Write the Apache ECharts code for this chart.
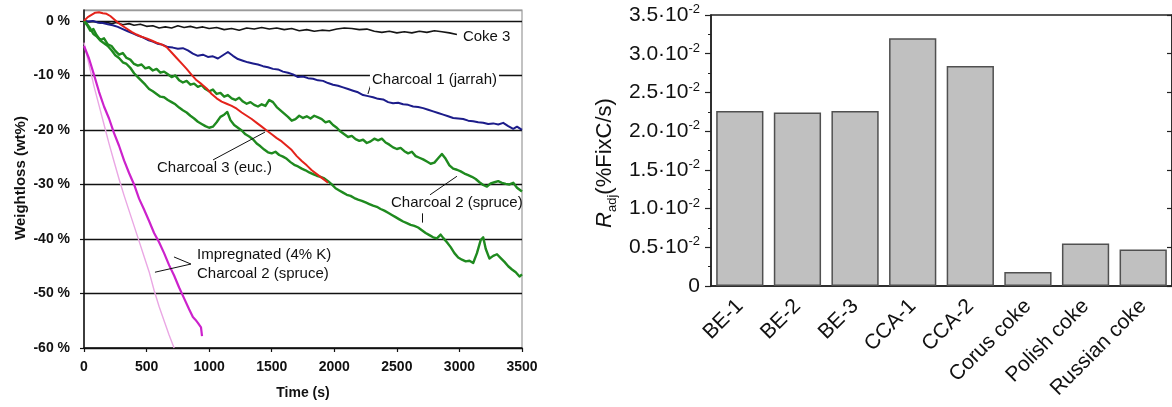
<!DOCTYPE html>
<html>
<head>
<meta charset="utf-8">
<script src="https://cdn.jsdelivr.net/npm/echarts@6/dist/echarts.min.js"></script>
<style>
  html, body { margin: 0; padding: 0; background: #fff; }
  #chart { width: 1172px; height: 407px; }
</style>
</head>
<body>
<div id="chart"></div>
<script>
// ---- Weight loss vs time (left panel): [time s, weight loss %] ----
const coke3 = [[0,0],[40,-0.2],[80,-0.1],[130,-0.4],[170,-0.2],[220,-0.5],[260,-0.3],[310,-0.7],[360,-0.5],[400,-0.8],[450,-0.6],[500,-1.0],[550,-0.9],[600,-1.3],[650,-1.1],[700,-1.3],[750,-0.9],[800,-1.2],[850,-1.0],[900,-1.3],[950,-1.1],[1000,-1.4],[1060,-1.2],[1120,-1.6],[1180,-1.4],[1240,-1.7],[1300,-1.3],[1360,-1.5],[1420,-1.2],[1480,-1.5],[1540,-1.3],[1600,-1.6],[1660,-1.4],[1720,-1.8],[1780,-1.6],[1840,-1.9],[1900,-1.7],[1960,-1.8],[2020,-1.5],[2080,-1.3],[2140,-1.4],[2200,-1.6],[2260,-1.5],[2320,-1.9],[2380,-2.1],[2440,-1.9],[2500,-2.2],[2560,-2.0],[2620,-2.2],[2680,-1.9],[2740,-2.1],[2800,-1.8],[2860,-2.0],[2920,-2.2],[2980,-2.5]];

const charcoal1Jarrah = [[0,0],[30,-0.1],[70,0.0],[110,-0.3],[150,-0.4],[190,-0.6],[230,-0.8],[270,-1.1],[310,-1.5],[350,-1.9],[390,-2.3],[430,-2.7],[470,-3.0],[510,-3.5],[550,-3.8],[590,-4.2],[630,-4.4],[670,-4.8],[710,-4.9],[750,-5.1],[790,-5.0],[830,-5.4],[870,-6.0],[910,-6.4],[950,-6.2],[990,-6.6],[1030,-6.5],[1070,-6.9],[1110,-6.3],[1150,-5.7],[1190,-6.4],[1230,-7.0],[1270,-7.3],[1310,-7.6],[1350,-7.8],[1390,-8.0],[1430,-8.3],[1470,-8.5],[1510,-8.8],[1550,-8.9],[1590,-9.3],[1630,-9.5],[1670,-9.8],[1710,-10.3],[1750,-10.2],[1790,-10.5],[1830,-10.6],[1870,-10.9],[1910,-11.0],[1950,-11.4],[1990,-11.7],[2030,-11.9],[2070,-12.2],[2110,-12.5],[2150,-12.8],[2190,-13.1],[2230,-13.6],[2270,-13.8],[2310,-14.0],[2350,-14.3],[2390,-14.4],[2430,-14.9],[2470,-15.1],[2510,-15.0],[2550,-15.3],[2590,-15.4],[2630,-15.7],[2670,-15.8],[2710,-16.0],[2750,-16.3],[2790,-16.6],[2830,-16.9],[2870,-17.2],[2910,-17.5],[2950,-17.8],[2990,-17.9],[3030,-18.0],[3070,-18.3],[3110,-18.4],[3150,-18.6],[3190,-18.7],[3230,-18.9],[3270,-18.8],[3310,-19.0],[3350,-18.7],[3390,-19.3],[3430,-19.8],[3460,-19.4],[3500,-20.0]];

const charcoal3Euc = [[0,0],[30,0.7],[60,1.1],[90,1.5],[120,1.6],[150,1.4],[180,1.3],[210,0.9],[240,0.3],[270,-0.3],[300,-0.8],[340,-1.4],[380,-2.0],[420,-2.5],[460,-2.9],[500,-3.2],[540,-3.6],[580,-4.0],[620,-4.3],[660,-4.8],[700,-5.8],[740,-6.8],[780,-7.8],[820,-8.8],[860,-9.9],[900,-10.9],[940,-11.6],[980,-12.4],[1020,-13.4],[1060,-14.2],[1100,-14.8],[1140,-15.2],[1180,-15.6],[1220,-16.1],[1260,-16.8],[1300,-17.4],[1340,-18.0],[1380,-18.7],[1420,-19.4],[1460,-20.1],[1500,-20.8],[1540,-21.5],[1580,-22.1],[1620,-22.9],[1660,-23.7],[1700,-24.8],[1740,-25.7],[1780,-26.5],[1820,-27.4],[1860,-28.1],[1900,-28.8],[1950,-29.7]];

const charcoal2SpruceA = [[0,0],[25,-0.8],[50,-1.8],[75,-1.5],[100,-2.6],[130,-3.5],[160,-3.2],[190,-4.3],[220,-4.6],[250,-5.5],[280,-6.2],[310,-5.9],[340,-6.8],[370,-7.1],[400,-7.9],[430,-8.2],[460,-8.0],[490,-8.7],[520,-8.5],[550,-9.1],[580,-8.8],[610,-9.5],[640,-9.3],[670,-9.8],[700,-10.3],[730,-10.0],[760,-10.9],[790,-11.3],[820,-11.0],[850,-11.7],[880,-11.5],[910,-12.1],[940,-11.8],[970,-12.5],[1000,-12.9],[1030,-12.6],[1060,-13.4],[1090,-13.2],[1120,-13.9],[1150,-13.6],[1180,-14.2],[1210,-14.5],[1240,-14.1],[1270,-14.8],[1300,-15.2],[1330,-14.9],[1360,-15.4],[1390,-15.7],[1420,-15.3],[1450,-15.6],[1480,-14.5],[1510,-14.9],[1540,-15.8],[1570,-16.4],[1600,-17.0],[1630,-17.6],[1660,-18.3],[1690,-18.0],[1720,-17.4],[1750,-17.8],[1780,-17.5],[1810,-17.9],[1840,-17.4],[1870,-17.7],[1900,-18.0],[1930,-18.6],[1960,-18.4],[1990,-19.1],[2020,-19.6],[2050,-20.3],[2080,-20.8],[2110,-21.3],[2140,-21.1],[2170,-21.7],[2200,-22.0],[2230,-21.8],[2260,-22.4],[2290,-22.1],[2320,-21.6],[2350,-21.9],[2380,-21.6],[2410,-22.3],[2440,-22.7],[2470,-23.2],[2500,-23.5],[2530,-23.3],[2560,-23.9],[2590,-24.3],[2620,-24.0],[2650,-24.8],[2680,-25.1],[2710,-25.4],[2740,-25.8],[2770,-26.2],[2800,-26.0],[2830,-25.2],[2860,-24.4],[2890,-25.3],[2920,-26.5],[2950,-27.1],[2980,-27.3],[3010,-27.6],[3040,-28.0],[3070,-28.3],[3100,-28.6],[3130,-29.0],[3160,-29.6],[3190,-30.1],[3220,-30.4],[3250,-29.8],[3280,-29.6],[3310,-29.4],[3340,-29.7],[3370,-29.9],[3400,-30.0],[3430,-29.7],[3460,-30.6],[3500,-31.3]];

const charcoal2SpruceB = [[0,0],[25,-0.6],[50,-1.4],[75,-2.4],[100,-2.8],[130,-3.6],[160,-4.1],[190,-4.6],[220,-5.4],[250,-6.3],[280,-6.8],[310,-7.6],[340,-7.9],[370,-8.6],[400,-9.6],[430,-10.3],[460,-11.0],[490,-11.7],[520,-12.5],[550,-12.9],[580,-13.4],[610,-13.9],[640,-14.0],[670,-14.5],[700,-14.9],[730,-15.3],[760,-15.9],[790,-16.4],[820,-16.8],[850,-17.4],[880,-17.9],[910,-18.5],[940,-18.9],[970,-19.3],[1000,-19.6],[1030,-19.4],[1060,-18.6],[1090,-17.6],[1120,-17.2],[1145,-16.7],[1170,-18.2],[1200,-19.1],[1230,-19.6],[1260,-20.1],[1290,-20.8],[1320,-21.2],[1350,-21.7],[1380,-22.5],[1410,-23.0],[1440,-23.6],[1470,-24.1],[1500,-24.3],[1530,-24.0],[1560,-24.6],[1590,-24.9],[1620,-25.3],[1650,-25.9],[1680,-26.4],[1710,-26.7],[1740,-27.1],[1770,-27.4],[1800,-27.8],[1830,-28.1],[1860,-28.4],[1890,-28.6],[1920,-28.9],[1950,-29.4],[1980,-30.0],[2010,-30.7],[2040,-31.1],[2070,-31.5],[2100,-31.9],[2130,-32.1],[2160,-32.5],[2190,-32.8],[2220,-33.0],[2250,-33.3],[2280,-33.6],[2310,-33.9],[2340,-34.1],[2370,-34.5],[2400,-34.8],[2430,-35.2],[2460,-35.6],[2490,-36.0],[2520,-36.4],[2550,-36.8],[2580,-37.1],[2610,-37.4],[2640,-37.6],[2670,-37.9],[2700,-38.4],[2730,-38.9],[2760,-39.3],[2790,-39.7],[2820,-39.9],[2850,-39.2],[2870,-39.8],[2900,-40.6],[2930,-41.5],[2960,-42.6],[2990,-43.4],[3020,-43.8],[3050,-44.1],[3080,-44.0],[3110,-44.4],[3140,-42.6],[3170,-40.2],[3190,-39.7],[3210,-41.8],[3240,-43.6],[3270,-43.1],[3300,-42.8],[3330,-43.5],[3360,-44.2],[3390,-45.0],[3420,-45.6],[3450,-46.1],[3480,-46.9],[3500,-46.5]];

const impregnated4K = [[0,-4.6],[40,-6.9],[80,-9.9],[120,-13.0],[160,-15.7],[200,-17.9],[240,-20.6],[280,-22.9],[320,-25.6],[360,-27.9],[400,-30.0],[440,-32.6],[480,-34.6],[520,-36.7],[560,-38.9],[600,-40.6],[640,-42.6],[680,-44.8],[720,-46.7],[760,-48.9],[800,-50.9],[840,-52.9],[870,-54.3],[890,-54.8],[910,-55.4],[925,-55.1],[935,-56.2],[943,-57.8]];

const charcoal2SpruceImp = [[0,-4.0],[40,-8.0],[80,-12.0],[120,-15.5],[160,-19.0],[200,-22.5],[240,-25.8],[280,-29.0],[320,-32.0],[360,-34.8],[400,-37.6],[440,-40.4],[480,-43.2],[520,-46.0],[560,-49.4],[600,-52.4],[640,-55.0],[680,-57.6],[720,-60.0]];

// ---- Adjusted reactivity (right panel) ----
const samples = ['BE-1', 'BE-2', 'BE-3', 'CCA-1', 'CCA-2', 'Corus coke', 'Polish coke', 'Russian coke'];
const rAdj = [0.0226, 0.0224, 0.0226, 0.0320, 0.0284, 0.0018, 0.0055, 0.0047];

const FONT = "'Liberation Sans', Arial, sans-serif";
const chart = echarts.init(document.getElementById('chart'), null, { renderer: 'canvas' });

const noteStyle = { fontFamily: FONT, fontSize: 15, color: '#111' };
function note(coord, text, extra) {
  return {
    coord: coord, symbol: 'rect', symbolSize: 0,
    label: Object.assign({ show: true, position: 'right', distance: 0, formatter: text }, noteStyle, extra || {})
  };
}
function leader(a, b) { return [{ coord: a }, { coord: b }]; }

function line(name, data, color, width, extra) {
  return Object.assign({
    name: name, type: 'line', xAxisIndex: 0, yAxisIndex: 0, data: data,
    showSymbol: false, symbol: 'none', animation: false, silent: true,
    lineStyle: { color: color, width: width, join: 'round' }
  }, extra || {});
}

const option = {
  animation: false,
  textStyle: { fontFamily: FONT },
  grid: [
    { left: 84, right: 650, top: 10, bottom: 59, show: true, borderColor: '#9a9a9a', borderWidth: 1.2, backgroundColor: '#fff' },
    { left: 711, right: -3, top: 15, bottom: 121, show: true, borderColor: '#222', borderWidth: 1.5, backgroundColor: '#fff' }
  ],
  xAxis: [
    {
      gridIndex: 0, type: 'value', min: 0, max: 3500, interval: 500,
      name: 'Time (s)', nameLocation: 'middle', nameGap: 38,
      nameTextStyle: { fontFamily: FONT, fontSize: 14, fontWeight: 'bold', color: '#111' },
      axisLine: { show: true, onZero: false, lineStyle: { color: '#111', width: 1.5 } },
      axisTick: { show: true, length: 4, lineStyle: { color: '#111', width: 1.2 } },
      axisLabel: { fontFamily: FONT, fontSize: 14, fontWeight: 'bold', color: '#111', margin: 12, formatter: v => String(v) },
      splitLine: { show: false }
    },
    {
      gridIndex: 1, type: 'category', data: samples, boundaryGap: true,
      axisLine: { show: true, lineStyle: { color: '#222', width: 1.5 } },
      axisTick: { show: false },
      axisLabel: { interval: 0, rotate: 45, fontFamily: FONT, fontSize: 21, color: '#111', margin: 17 },
      splitLine: { show: false }
    }
  ],
  yAxis: [
    {
      gridIndex: 0, type: 'value', min: -60, max: 2, interval: 10,
      axisLine: { show: true, onZero: false, lineStyle: { color: '#111', width: 1.5 } },
      axisTick: { show: true, length: 4, lineStyle: { color: '#111', width: 1.2 } },
      axisLabel: { fontFamily: FONT, fontSize: 14, fontWeight: 'bold', color: '#111', margin: 14,
                   showMaxLabel: false, formatter: v => v + ' %' },
      splitLine: { show: true, lineStyle: { color: ['#111','#111','#111','#111','#111','#111','#111','#9a9a9a'], width: 1.4 } }
    },
    {
      gridIndex: 1, type: 'value', min: 0, max: 0.035, interval: 0.005,
      axisLine: { show: true, lineStyle: { color: '#222', width: 1.5 } },
      axisTick: { show: true, length: 6, lineStyle: { color: '#222', width: 1.2 } },
      minorTick: { show: true, splitNumber: 2, length: 3, lineStyle: { color: '#222', width: 1 } },
      axisLabel: {
        fontFamily: FONT, fontSize: 21, color: '#111', margin: 11, lineHeight: 24,
        formatter: v => v === 0 ? '0' : (v * 100).toFixed(1) + '\u00b710{sup|-2}',
        rich: { sup: { fontFamily: FONT, fontSize: 13, color: '#111', verticalAlign: 'top', lineHeight: 13 } }
      },
      splitLine: { show: false }
    },
    {
      gridIndex: 1, type: 'value', min: 0, max: 0.035, interval: 0.005, position: 'right',
      axisLine: { show: true, lineStyle: { color: '#222', width: 1.5 } },
      axisTick: { show: true, inside: true, length: 5, lineStyle: { color: '#222', width: 1.2 } },
      minorTick: { show: false },
      axisLabel: { show: false },
      splitLine: { show: false }
    }
  ],
  graphic: [
    {
      type: 'text', x: 21, y: 178, rotation: Math.PI / 2, silent: true,
      style: { text: 'Weightloss (wt%)', fontFamily: FONT, fontSize: 15, fontWeight: 'bold', fill: '#111',
               align: 'center', verticalAlign: 'middle' }
    },
    {
      type: 'text', x: 605, y: 163, rotation: Math.PI / 2, silent: true,
      style: {
        text: '{r|R}{sub|adj}{t|(%FixC/s)}', align: 'center', verticalAlign: 'middle',
        rich: {
          r: { fontFamily: FONT, fontSize: 22, fontStyle: 'italic', fill: '#111', lineHeight: 27 },
          sub: { fontFamily: FONT, fontSize: 13, fill: '#111', verticalAlign: 'bottom', lineHeight: 27 },
          t: { fontFamily: FONT, fontSize: 22, fill: '#111', lineHeight: 27 }
        }
      }
    }
  ],
  series: [
    line('Charcoal 2 (spruce) impregnated', charcoal2SpruceImp, '#eaa7e4', 1.4),
    line('Impregnated (4% K)', impregnated4K, '#cc22cc', 2.2),
    line('Coke 3', coke3, '#151515', 1.6, {
      markPoint: {
        silent: true, animation: false,
        data: [
          note([3028, -2.95], 'Coke 3'),
          note([2285, -10.84], 'Charcoal 1 (jarrah)', { backgroundColor: '#fff', padding: [1, 2, 1, 2] }),
          note([583, -27.0], 'Charcoal 3 (euc.)'),
          note([2453, -33.4], 'Charcoal 2 (spruce)'),
          note([903, -44.7], 'Impregnated (4% K)\nCharcoal 2 (spruce)', { lineHeight: 19 })
        ]
      },
      markLine: {
        silent: true, animation: false, symbol: 'none',
        label: { show: false },
        lineStyle: { color: '#111', width: 1, type: 'solid' },
        data: [
          leader([2293, -11.6], [2269, -13.4]),
          leader([1031, -25.5], [1446, -20.4]),
          leader([2765, -31.9], [2980, -28.5]),
          leader([2701, -35.3], [2701, -37.0]),
          leader([855, -44.6], [719, -43.3]),
          leader([855, -44.6], [567, -46.1])
        ]
      }
    }),
    line('Charcoal 1 (jarrah)', charcoal1Jarrah, '#1c1c8a', 2),
    line('Charcoal 2 (spruce)', charcoal2SpruceA, '#1f8a1f', 2.4),
    line('Charcoal 2 (spruce) run 2', charcoal2SpruceB, '#1f8a1f', 2.4),
    line('Charcoal 3 (euc.)', charcoal3Euc, '#e4231b', 2),
    {
      name: 'R adj', type: 'bar', xAxisIndex: 1, yAxisIndex: 1, data: rAdj,
      barCategoryGap: '18%', animation: false, silent: true,
      itemStyle: { color: '#c0c0c0', borderColor: '#505050', borderWidth: 1.5 }
    }
  ]
};

chart.setOption(option);
</script>
</body>
</html>
